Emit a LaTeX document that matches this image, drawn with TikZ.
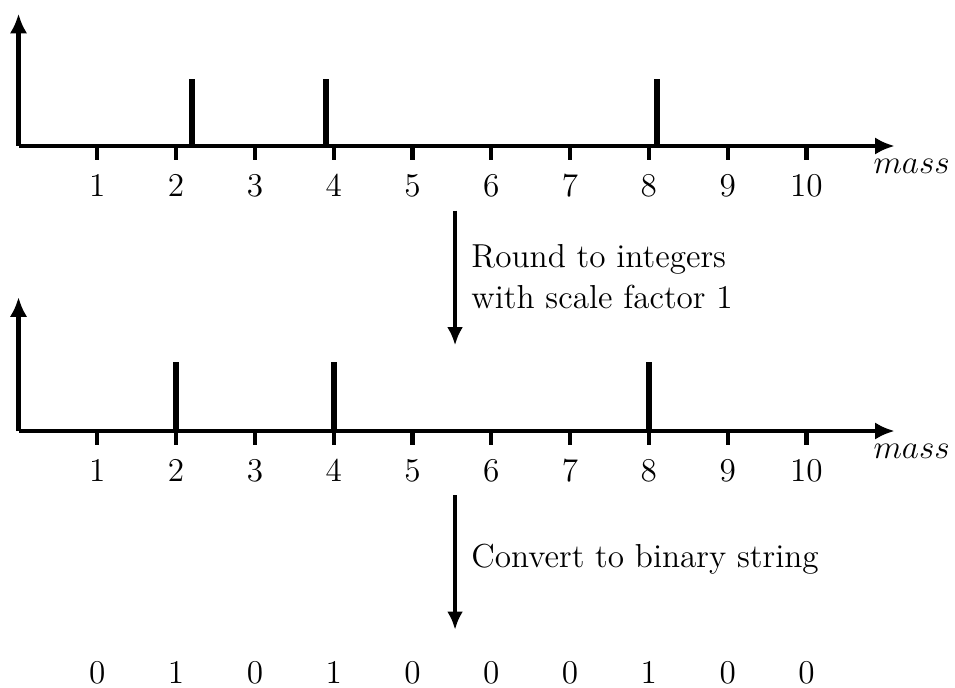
\documentclass[tikz,border=0pt]{standalone}
\usetikzlibrary{arrows.meta, positioning, calc}
\tikzset{
  eje/.style={line width=1.5pt, -{Latex[length=2.5mm, width=2.2mm]}},
  marca/.style={line width=1.5pt},
  pico/.style={line width=2.2pt},
  flecha/.style={line width=1.5pt, -{Latex[length=2.3mm, width=2mm]}},
  etiquetaNum/.style={font=\large, inner sep=1pt},
  etiquetaMasa/.style={font=\large, anchor=north east, inner sep=1pt},
  etiquetaPaso/.style={align=left, anchor=west, inner sep=0pt, font=\large},
}
\begin{document}
\begin{tikzpicture}
  \useasboundingbox (-0.235,1.853) rectangle (11.885,-6.878);
  % espectro original
  \coordinate (o1) at (0,0);
  \draw[eje] (o1) -- ++(0,1.68) coordinate (ytop1);
  \draw[eje] (o1) -- ++(11.12,0) coordinate (xend1);
  \node[etiquetaMasa] (masa1) at ($(xend1)+(0.74,-0.12)$) {$mass$};
  \foreach \i in {1,...,10} {
    \draw[marca] (\i,0) -- (\i,-0.18);
    \node[etiquetaNum] (n1-\i) at (\i,-0.5) {\i};
  }
  \foreach \m in {2.2,3.9,8.1}
    \draw[pico] (\m,0) -- (\m,0.85);

  % paso 1
  \coordinate (a1) at (5.54,-0.82);
  \coordinate (b1) at (5.54,-2.53);
  \draw[flecha] (a1) -- (b1);
  \node[etiquetaPaso] (paso1) at (5.74,-1.66) {Round to integers\\[1pt]with scale factor 1};

  % espectro redondeado
  \begin{scope}[yshift=-3.617cm]
    \coordinate (o2) at (0,0);
    \draw[eje] (o2) -- ++(0,1.70) coordinate (ytop2);
    \draw[eje] (o2) -- ++(11.12,0) coordinate (xend2);
    \node[etiquetaMasa] (masa2) at ($(xend2)+(0.74,-0.12)$) {$mass$};
    \foreach \i in {1,...,10} {
      \draw[marca] (\i,0) -- (\i,-0.18);
      \node[etiquetaNum] (n2-\i) at (\i,-0.5) {\i};
    }
    \foreach \m in {2,4,8}
      \draw[pico] (\m,0) -- (\m,0.88);
  \end{scope}

  % paso 2
  \coordinate (a2) at (5.54,-4.43);
  \coordinate (b2) at (5.54,-6.14);
  \draw[flecha] (a2) -- (b2);
  \node[etiquetaPaso] (paso2) at (5.74,-5.25) {Convert to binary string};

  % cadena binaria
  \foreach \b [count=\i] in {0,1,0,1,0,0,0,1,0,0}
    \node[etiquetaNum] (bit\i) at (\i,-6.68) {\b};
\end{tikzpicture}
\end{document}
